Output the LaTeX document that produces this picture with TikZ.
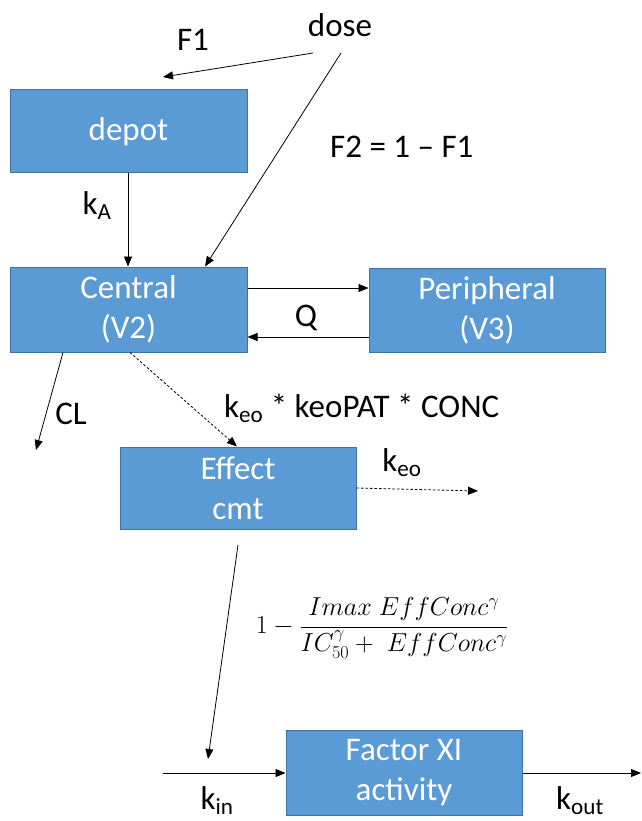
\RequirePackage{fix-cm}
\documentclass[tikz,border=0pt]{standalone}
\usepackage{amsmath}
\usepackage{fontspec}
\setmainfont{Carlito}
\usetikzlibrary{arrows.meta}
\definecolor{boxfill}{HTML}{5B9BD5}
\definecolor{boxline}{HTML}{41719C}
\begin{document}
\begin{tikzpicture}[x=1pt,y=-1pt,
  cmt/.style={draw=boxline, fill=boxfill, line width=1pt, minimum width=237pt,
    minimum height=83pt, text=white, align=center, inner sep=0pt,
    font=\fontsize{33}{40}\selectfont},
  lbl/.style={inner sep=0pt, font=\fontsize{33}{40}\selectfont},
  arr/.style={-{Triangle[length=10pt,width=8pt]}, line width=0.8pt},
  dsh/.style={arr, dash pattern=on 2.5pt off 2pt}]
\useasboundingbox (0,0) rectangle (641,821);

% compartments
\node[cmt] (depot)   at (128.5,131.5) {depot};
\node[cmt, minimum height=85pt] (central) at (128.5,309.5) {Central\\(V2)};
\node[cmt, minimum height=84pt, minimum width=236pt] (periph) at (487,310) {Peripheral\\(V3)};
\node[cmt, minimum height=82pt, minimum width=236pt] (effect) at (238,488) {Effect\\cmt};
\node[cmt, minimum height=85pt, minimum width=236pt] (factor) at (404,772.5) {Factor XI\\activity};

% labels
\node[lbl] (dose) at (340,25) {dose};
\node[lbl] (f1) at (193,40) {F1};
\node[lbl, anchor=west] (f2) at (330,147) {F2 = 1 – F1};
\node[lbl] (ka) at (97,206) {k\textsubscript{A}};
\node[lbl] (q) at (306,318) {Q};
\node[lbl] (cl) at (71,414) {CL};
\node[lbl, anchor=west] (keolbl) at (224,408) {k\textsubscript{eo} * keoPAT * CONC};
\node[lbl] (keo) at (402,463) {k\textsubscript{eo}};
\node[lbl] (kin) at (217,801) {k\textsubscript{in}};
\node[lbl] (kout) at (580,801) {k\textsubscript{out}};
\node[inner sep=0pt, font=\fontsize{26}{30}\selectfont] (formula) at (382,628)
  {$1-\dfrac{Imax\;EffConc^{\gamma}}{IC_{50}^{\gamma}+\;EffConc^{\gamma}}$};

% free ends of connectors
\coordinate (doseL) at (313,53);
\coordinate (doseR) at (341,53);
\coordinate (f1end) at (163,77);
\coordinate (clend) at (36,450);
\coordinate (keoend) at (478,491);
\coordinate (inhib) at (238,545);
\coordinate (kinend) at (208,759);
\coordinate (kinstart) at (163,773);
\coordinate (koutend) at (641,773);

% connectors
\draw[arr] (doseL) -- (f1end);
\draw[arr] (doseR) -- (central.north -| 205,0);
\draw[arr] (depot.south -| 128,0) -- (central.north -| 128,0);
\draw[arr] (central.east |- 0,288) -- (periph.west |- 0,288);
\draw[arr] (periph.west |- 0,337) -- (central.east |- 0,337);
\draw[arr] (central.south -| 63,0) -- (clend);
\draw[dsh] (central.south -| 130,0) -- (effect.north -| 237,0);
\draw[dsh] (effect.east) -- (keoend);
\draw[arr] (inhib) -- (kinend);
\draw[arr] (kinstart) -- (factor.west |- 0,773);
\draw[arr] (factor.east |- 0,773) -- (koutend);
\end{tikzpicture}
\end{document}
